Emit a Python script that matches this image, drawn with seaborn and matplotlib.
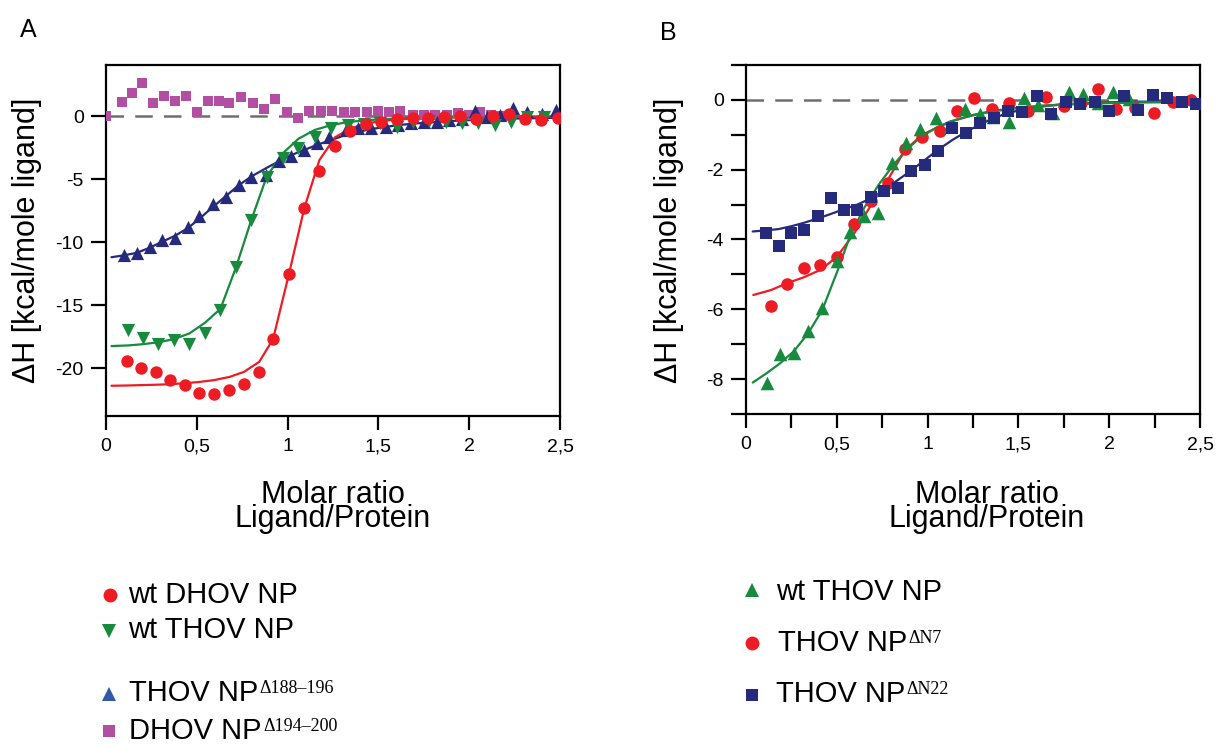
import matplotlib
matplotlib.use("Agg")
import matplotlib.pyplot as plt
import seaborn as sns
from matplotlib.ticker import FixedLocator, FixedFormatter, MultipleLocator

# ---------------- Panel A: DHOV / THOV nucleoproteins ----------------
dhov_wt_x = [0.114, 0.193, 0.273, 0.35, 0.435, 0.514, 0.596, 0.68, 0.76, 0.844,
             0.92, 1.008, 1.092, 1.175, 1.26, 1.344, 1.43, 1.515, 1.60, 1.69,
             1.775, 1.86, 1.95, 2.04, 2.13, 2.22, 2.31, 2.395, 2.49]
dhov_wt_y = [-19.4, -19.97, -20.3, -20.95, -21.35, -22.0, -22.06, -21.7, -21.27, -20.3,
             -17.7, -12.5, -7.3, -4.4, -2.36, -1.19, -0.66, -0.45, -0.22, -0.13,
             -0.18, -0.1, 0.0, -0.26, 0.0, 0.13, -0.26, -0.32, -0.13]
dhov_wt_fit_x = [0.03, 0.114, 0.193, 0.273, 0.35, 0.435, 0.514, 0.596, 0.68, 0.76, 0.844,
                 0.92, 1.008, 1.092, 1.175, 1.26, 1.344, 1.43, 1.515, 1.60, 1.69,
                 1.775, 1.86, 1.95, 2.04, 2.13, 2.22, 2.31, 2.395, 2.49]
dhov_wt_fit_y = [-21.4, -21.38, -21.35, -21.32, -21.28, -21.2, -21.1, -20.95, -20.7, -20.3, -19.5,
                 -17.7, -12.5, -7.3, -3.5, -1.7, -1.0, -0.6, -0.4, -0.27, -0.2,
                 -0.15, -0.12, -0.1, -0.08, -0.07, -0.06, -0.05, -0.05, -0.04]

thov_wt_x = [0.123, 0.205, 0.288, 0.374, 0.459, 0.545, 0.63, 0.716, 0.80, 0.885,
             0.973, 1.06, 1.15, 1.24, 1.33, 1.42, 1.51, 1.60, 1.69, 1.78,
             1.87, 1.96, 2.05, 2.14, 2.23, 2.32, 2.41]
thov_wt_y = [-17.0, -17.6, -18.05, -17.8, -18.05, -17.2, -15.35, -12.0, -8.25, -4.8,
             -3.36, -2.56, -1.7, -0.98, -0.7, -0.6, -0.55, -0.85, -0.5, -0.4,
             -0.45, -0.58, -0.58, -0.71, -0.45, -0.05, -0.05]
thov_wt_fit_x = [0.03, 0.123, 0.205, 0.288, 0.374, 0.459, 0.545, 0.63, 0.716, 0.80, 0.885,
                 0.973, 1.06, 1.15, 1.24, 1.33, 1.42, 1.51, 1.60, 1.69, 1.78,
                 1.87, 1.96, 2.05, 2.14, 2.23, 2.32, 2.41]
thov_wt_fit_y = [-18.25, -18.2, -18.1, -17.95, -17.7, -17.25, -16.4, -15.3, -12.0, -8.25, -4.8,
                 -2.96, -1.8, -1.1, -0.72, -0.48, -0.35, -0.26, -0.2, -0.16, -0.13,
                 -0.11, -0.09, -0.08, -0.07, -0.06, -0.05, -0.05]

thov_d188_x = [0.10, 0.17, 0.24, 0.31, 0.38, 0.45, 0.51, 0.59, 0.66, 0.73,
               0.80, 0.88, 0.95, 1.02, 1.09, 1.16, 1.23, 1.32, 1.39, 1.46,
               1.54, 1.61, 1.68, 1.75, 1.82, 1.89, 1.96, 2.03, 2.10, 2.17,
               2.24, 2.32, 2.40, 2.48]
thov_d188_y = [-11.0, -10.9, -10.4, -9.85, -9.66, -8.8, -7.9, -6.98, -6.45, -5.5,
               -4.8, -4.7, -3.6, -3.2, -2.7, -2.1, -1.7, -1.1, -0.98, -0.93,
               -0.85, -0.71, -0.58, -0.5, -0.45, -0.35, -0.2, 0.4, -0.1, 0.1,
               0.6, 0.34, 0.2, 0.48]
thov_d188_fit_x = [0.03, 0.10, 0.17, 0.24, 0.31, 0.38, 0.45, 0.51, 0.59, 0.66, 0.73,
                   0.80, 0.88, 0.95, 1.02, 1.09, 1.16, 1.23, 1.32, 1.39, 1.46,
                   1.54, 1.61, 1.68, 1.75, 1.82, 1.89, 1.96, 2.03, 2.10, 2.17,
                   2.24, 2.32, 2.40, 2.48]
thov_d188_fit_y = [-11.2, -11.05, -10.85, -10.45, -9.97, -9.5, -8.9, -8.2, -7.2, -6.35, -5.5,
                   -4.8, -4.15, -3.6, -3.1, -2.7, -2.3, -1.95, -1.5, -1.25, -1.03,
                   -0.86, -0.72, -0.62, -0.54, -0.46, -0.4, -0.35, -0.3, -0.26, -0.23,
                   -0.2, -0.18, -0.16, -0.14]

dhov_d194_x = [0.0, 0.087, 0.145, 0.20, 0.26, 0.32, 0.38, 0.44, 0.50, 0.56,
               0.62, 0.68, 0.745, 0.81, 0.87, 0.93, 0.995, 1.06, 1.12, 1.185,
               1.245, 1.31, 1.37, 1.435, 1.50, 1.56, 1.62, 1.69, 1.75, 1.81,
               1.88, 1.94, 2.00, 2.06, 2.12, 2.18]
dhov_d194_y = [0.0, 1.13, 1.85, 2.6, 1.0, 1.6, 1.2, 1.6, 0.34, 1.2,
               1.2, 1.0, 1.48, 1.06, 0.58, 1.35, 0.34, -0.18, 0.4, 0.42,
               0.42, 0.34, 0.34, 0.34, 0.42, 0.34, 0.4, 0.1, 0.05, 0.05,
               0.1, 0.26, 0.1, 0.3, 0.05, 0.0]

# ---------------- Panel B: THOV NP N-terminal deletions ----------------
b_wt_x = [0.114, 0.187, 0.264, 0.343, 0.42, 0.50, 0.573, 0.65, 0.728, 0.806,
          0.88, 0.958, 1.046, 1.123, 1.205, 1.287, 1.36, 1.446, 1.53, 1.61,
          1.69, 1.777, 1.857, 1.94, 2.02, 2.11]
b_wt_y = [-8.12, -7.28, -7.24, -6.62, -5.97, -4.63, -3.79, -3.32, -3.25, -1.81,
          -1.24, -0.84, -0.52, -0.76, -0.27, -0.4, -0.48, -0.62, 0.05, -0.14,
          -0.38, 0.24, 0.16, -0.1, 0.24, 0.02]
b_wt_fit_x = [0.037, 0.114, 0.187, 0.264, 0.343, 0.42, 0.50, 0.573, 0.65, 0.728, 0.806,
              0.88, 0.958, 1.046, 1.123, 1.205, 1.287, 1.36, 1.446, 1.53, 1.61,
              1.69, 1.777, 1.857, 1.94, 2.02, 2.11, 2.19, 2.27, 2.35, 2.43]
b_wt_fit_y = [-8.1, -7.83, -7.55, -7.2, -6.68, -6.02, -4.95, -3.9, -3.1, -2.45, -1.9,
              -1.45, -1.08, -0.8, -0.62, -0.5, -0.4, -0.33, -0.27, -0.22, -0.18,
              -0.15, -0.13, -0.11, -0.1, -0.09, -0.08, -0.07, -0.07, -0.06, -0.06]

b_n7_x = [0.137, 0.227, 0.32, 0.41, 0.50, 0.593, 0.69, 0.78, 0.874, 0.97,
          1.066, 1.16, 1.258, 1.356, 1.45, 1.553, 1.65, 1.75, 1.845, 1.94,
          2.04, 2.14, 2.245, 2.35, 2.45]
b_n7_y = [-5.9, -5.28, -4.82, -4.73, -4.49, -3.55, -2.91, -2.37, -1.41, -1.07,
          -0.89, -0.31, 0.05, -0.27, -0.1, -0.31, 0.08, -0.17, -0.1, 0.31,
          -0.27, -0.22, -0.38, -0.05, 0.0]
b_n7_fit_x = [0.04, 0.137, 0.227, 0.32, 0.41, 0.50, 0.593, 0.69, 0.78, 0.874, 0.97,
              1.066, 1.16, 1.258, 1.356, 1.45, 1.553, 1.65, 1.75, 1.845, 1.94,
              2.04, 2.14, 2.245, 2.35, 2.45]
b_n7_fit_y = [-5.59, -5.45, -5.25, -5.08, -4.87, -4.5, -3.85, -3.0, -2.3, -1.45, -1.0,
              -0.76, -0.57, -0.42, -0.32, -0.25, -0.2, -0.16, -0.13, -0.11, -0.09,
              -0.08, -0.07, -0.06, -0.05, -0.05]

b_n22_x = [0.108, 0.181, 0.25, 0.32, 0.394, 0.466, 0.54, 0.613, 0.688, 0.762,
           0.835, 0.908, 0.985, 1.06, 1.136, 1.21, 1.29, 1.364, 1.44, 1.52,
           1.60, 1.68, 1.76, 1.84, 1.92, 2.0, 2.08, 2.16, 2.24, 2.32,
           2.40, 2.48]
b_n22_y = [-3.82, -4.2, -3.8, -3.72, -3.32, -2.82, -3.15, -3.15, -2.79, -2.6,
           -2.53, -2.05, -1.86, -1.45, -0.81, -0.94, -0.67, -0.53, -0.31, -0.36,
           0.1, -0.41, -0.05, -0.12, -0.05, -0.33, 0.11, -0.29, 0.14, 0.05,
           -0.05, -0.11]
b_n22_fit_x = [0.037, 0.108, 0.181, 0.25, 0.32, 0.394, 0.466, 0.54, 0.613, 0.688, 0.762,
               0.835, 0.908, 0.985, 1.06, 1.136, 1.21, 1.29, 1.364, 1.44, 1.52,
               1.60, 1.68, 1.76, 1.84, 1.92, 2.0, 2.08, 2.16, 2.24, 2.32,
               2.40, 2.48]
b_n22_fit_y = [-3.77, -3.74, -3.7, -3.62, -3.52, -3.4, -3.27, -3.13, -3.0, -2.82, -2.58,
               -2.3, -2.03, -1.72, -1.42, -1.15, -0.92, -0.7, -0.52, -0.38, -0.28,
               -0.21, -0.16, -0.12, -0.1, -0.08, -0.07, -0.06, -0.05, -0.05, -0.04,
               -0.04, -0.04]

# ---------------- Axis ticks ----------------
x_ticks = [0, 0.5, 1, 1.5, 2, 2.5]
x_tick_labels = ["0", "0,5", "1", "1,5", "2", "2,5"]
a_y_ticks = [0, -5, -10, -15, -20]
a_y_tick_labels = ["0", "-5", "-10", "-15", "-20"]
b_y_ticks = [0, -2, -4, -6, -8]
b_y_tick_labels = ["0", "-2", "-4", "-6", "-8"]

RED = "#ED1C24"
GREEN = "#178A3E"
NAVY = "#262A7D"
MAGENTA = "#B24FA2"
LEG_BLUE = "#3358A8"
DASH = "#6E6E6E"

sns.set_style("ticks")
plt.rcParams["font.family"] = ["Liberation Sans", "DejaVu Sans"]
plt.rcParams["axes.unicode_minus"] = False
plt.rcParams.update({"text.color": "black", "axes.labelcolor": "black",
                     "xtick.color": "black", "ytick.color": "black",
                     "axes.edgecolor": "black"})

W, H = 1217, 747
fig = plt.figure(figsize=(W / 100, H / 100), dpi=100)


def px_axes(left, top, right, bottom):
    return fig.add_axes([left / W, 1 - bottom / H, (right - left) / W, (bottom - top) / H])


axA = px_axes(106, 65, 560, 416)
axB = px_axes(746, 65, 1200, 414)


def fit_line(ax, x, y, color):
    sns.lineplot(x=x, y=y, color=color, linewidth=1.6, ax=ax,
                 estimator=None, sort=False, zorder=3)


def points(ax, x, y, color, marker, size):
    sns.scatterplot(x=x, y=y, color=color, marker=marker, s=size,
                    linewidth=0, ax=ax, zorder=4)


def style_axes(ax, ylim, yticks, ylabels):
    ax.set_xlim(0, 2.5)
    ax.set_ylim(*ylim)
    ax.axhline(0, color=DASH, linewidth=1.8, dashes=(7, 4.5), zorder=2)
    for s in ax.spines.values():
        s.set_linewidth(1.6)
        s.set_color("black")
    ax.xaxis.set_major_locator(FixedLocator(x_ticks))
    ax.xaxis.set_major_formatter(FixedFormatter(x_tick_labels))
    ax.yaxis.set_major_locator(FixedLocator(yticks))
    ax.yaxis.set_major_formatter(FixedFormatter(ylabels))
    ax.tick_params(axis="x", which="both", direction="out", length=10,
                   width=1.6, labelsize=14, pad=6, colors="black")
    ax.tick_params(axis="y", which="both", direction="out", length=11,
                   width=1.6, labelsize=14, pad=5, colors="black")
    ax.set_xlabel("")
    ax.set_ylabel("")


# Panel A
points(axA, dhov_d194_x, dhov_d194_y, MAGENTA, "s", 62)
fit_line(axA, thov_d188_fit_x, thov_d188_fit_y, NAVY)
fit_line(axA, thov_wt_fit_x, thov_wt_fit_y, GREEN)
fit_line(axA, dhov_wt_fit_x, dhov_wt_fit_y, RED)
points(axA, thov_d188_x, thov_d188_y, NAVY, "^", 90)
points(axA, thov_wt_x, thov_wt_y, GREEN, "v", 90)
points(axA, dhov_wt_x, dhov_wt_y, RED, "o", 80)
style_axes(axA, (-23.8, 4.05), a_y_ticks, a_y_tick_labels)

# Panel B
fit_line(axB, b_n22_fit_x, b_n22_fit_y, NAVY)
fit_line(axB, b_n7_fit_x, b_n7_fit_y, RED)
fit_line(axB, b_wt_fit_x, b_wt_fit_y, GREEN)
points(axB, b_n7_x, b_n7_y, RED, "o", 82)
points(axB, b_wt_x, b_wt_y, GREEN, "^", 95)
points(axB, b_n22_x, b_n22_y, NAVY, "s", 64)
style_axes(axB, (-9, 1), b_y_ticks, b_y_tick_labels)
axB.xaxis.set_minor_locator(MultipleLocator(0.25))
axB.yaxis.set_minor_locator(MultipleLocator(1))

# Overlay in pixel coordinates for labels and legends
ov = fig.add_axes([0, 0, 1, 1])
ov.set_xlim(0, W)
ov.set_ylim(H, 0)
ov.axis("off")

ov.text(20, 37, "A", fontsize=18, ha="left", va="baseline")
ov.text(660, 40, "B", fontsize=18, ha="left", va="baseline")

for xc in (27, 669):
    ov.text(xc, 240, "ΔH [kcal/mole ligand]", fontsize=22, rotation=90,
            ha="center", va="center")

for xc in (333, 987):
    ov.text(xc, 527, "Molar ratio\nLigand/Protein", fontsize=22, ha="center",
            va="baseline", multialignment="center", linespacing=0.75)


def legend_row(mx, my, marker, color, ms, tx, ty, label, sup=None):
    ov.plot([mx], [my], marker=marker, color=color, markersize=ms,
            linestyle="none", markeredgewidth=0)
    t = ov.text(tx, ty, label, fontsize=21, ha="left", va="baseline")
    if sup:
        ov.annotate(sup, xy=(1, 1), xycoords=t, xytext=(1, -1),
                    textcoords="offset points", ha="left", va="top",
                    fontsize=13, family=["Liberation Serif", "DejaVu Serif"])


legend_row(110, 595, "o", RED, 10, 128, 603, "wt DHOV NP")
legend_row(109, 631, "v", GREEN, 10, 128, 638, "wt THOV NP")
legend_row(109, 694, "^", LEG_BLUE, 10, 129, 701, "THOV NP", "Δ188–196")
legend_row(109, 731, "s", MAGENTA, 8, 129, 739, "DHOV NP", "Δ194–200")

legend_row(752, 590, "^", GREEN, 10, 776, 600, "wt THOV NP")
legend_row(752, 643, "o", RED, 10, 778, 651, "THOV NP", "ΔN7")
legend_row(752, 695, "s", NAVY, 8, 776, 702, "THOV NP", "ΔN22")

fig.savefig("out.png", dpi=100)
